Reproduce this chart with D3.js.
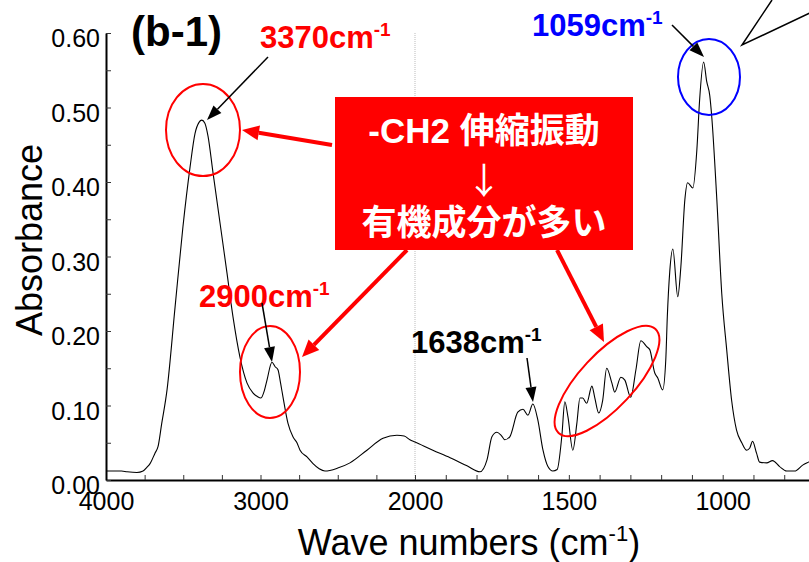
<!DOCTYPE html>
<html>
<head>
<meta charset="utf-8">
<script src="https://cdn.jsdelivr.net/npm/d3@7"></script>
<style>
  body { margin: 0; background: #fff; }
  svg { display: block; font-family: "Liberation Sans", Arial, "Noto Sans CJK JP", sans-serif; }
</style>
</head>
<body>
<div id="chart"></div>
<script>
// spectrum (cm-1, absorbance)
var wavenumbers = [4000, 3900, 3864, 3800, 3760, 3735, 3715, 3683, 3663, 3640, 3605, 3553, 3502, 3456, 3424, 3398, 3380, 3360, 3340, 3307,
  3262, 3217, 3178, 3133, 3087, 3049, 3020, 2997, 2975, 2958, 2926, 2905, 2887, 2870, 2854, 2822, 2790, 2764, 2744, 2699,
  2660, 2620, 2583, 2500, 2421, 2311, 2207, 2117, 2070, 2033, 2000, 1942, 1886, 1831, 1789, 1766, 1750, 1734, 1720, 1708,
  1692, 1666, 1649, 1633, 1617, 1601, 1584, 1568, 1552, 1538, 1523, 1513, 1503, 1487, 1474, 1464, 1455, 1442, 1425, 1416,
  1403, 1390, 1377, 1360, 1351, 1331, 1318, 1299, 1282, 1266, 1247, 1237, 1221, 1211, 1195, 1185, 1180, 1172, 1162, 1146,
  1136, 1123, 1114, 1097, 1084, 1075, 1062, 1052, 1042, 1036, 1019, 1003, 987, 971, 955, 938, 922, 912, 903, 890,
  880, 857, 838, 815, 792, 766, 740, 721, 700];
var absorbance = [0.012, 0.012, 0.011, 0.010, 0.012, 0.017, 0.022, 0.036, 0.045, 0.075, 0.121, 0.232, 0.340, 0.420, 0.465, 0.480, 0.483, 0.479, 0.462, 0.412,
  0.345, 0.278, 0.219, 0.165, 0.130, 0.117, 0.112, 0.110, 0.120, 0.134, 0.158, 0.152, 0.148, 0.130, 0.111, 0.076, 0.058, 0.050, 0.040, 0.031,
  0.022, 0.015, 0.012, 0.016, 0.023, 0.040, 0.056, 0.060, 0.059, 0.054, 0.051, 0.040, 0.030, 0.019, 0.011, 0.027, 0.058, 0.064, 0.060, 0.054,
  0.058, 0.091, 0.095, 0.087, 0.102, 0.081, 0.040, 0.018, 0.012, 0.014, 0.058, 0.105, 0.085, 0.040, 0.076, 0.110, 0.110, 0.103, 0.126, 0.111,
  0.090, 0.107, 0.150, 0.130, 0.118, 0.138, 0.134, 0.111, 0.148, 0.187, 0.179, 0.175, 0.144, 0.137, 0.121, 0.161, 0.219, 0.280, 0.310, 0.246,
  0.286, 0.376, 0.399, 0.392, 0.443, 0.510, 0.561, 0.535, 0.516, 0.490, 0.376, 0.250, 0.175, 0.107, 0.067, 0.050, 0.040, 0.043, 0.052, 0.036,
  0.024, 0.023, 0.026, 0.018, 0.012, 0.012, 0.020, 0.024, 0.028];

var xTickValues = [4000, 3000, 2000, 1500, 1000];
var yTickValues = [0, 0.1, 0.2, 0.3, 0.4, 0.5, 0.6];
var peakLabels = ['3370', '2900', '1638', '1059'];
var boxLines = ['-CH2 伸縮振動', '↓', '有機成分が多い'];

var width = 809,
    height = 562;

var data = wavenumbers.map(function(w, i) { return { wn: w, a: absorbance[i] }; });

// the axis doubles its scale below 2000 cm-1
var x = d3.scaleLinear().domain([4000, 2000, 700]).range([106, 415, 815]),
    y = d3.scaleLinear().domain([0, 0.6]).range([480, 33]);

var svg = d3.select('#chart').append('svg')
    .attr('width', width)
    .attr('height', height);

// dotted line at the scale change
svg.append('line')
    .attr('x1', x(2000)).attr('x2', x(2000))
    .attr('y1', y(0.6)).attr('y2', y(0))
    .attr('stroke', '#bbb')
    .attr('stroke-width', 1)
    .attr('stroke-dasharray', '1,1');

// minor ticks + axis lines
var xMinor = d3.range(4000, 2000, -250).concat(d3.range(2000, 699, -100));
var yMinor = d3.range(0, 0.601, 0.05);

var gx = svg.append('g').attr('transform', 'translate(0,' + y(0) + ')')
    .call(d3.axisBottom(x).tickValues(xMinor).tickSizeInner(-5).tickSizeOuter(0).tickFormat(''));
var gy = svg.append('g').attr('transform', 'translate(' + x(4000) + ',0)')
    .call(d3.axisLeft(y).tickValues(yMinor).tickSizeInner(-5).tickSizeOuter(0).tickFormat(''));
[gx, gy].forEach(function(g) {
    g.select('.domain').attr('stroke', '#000').attr('stroke-width', 2);
    g.selectAll('.tick line').attr('stroke', '#333').attr('stroke-width', 1);
});

// tick labels
svg.append('g').attr('transform', 'translate(0,' + y(0) + ')')
    .call(d3.axisBottom(x).tickValues(xTickValues).tickSize(0).tickPadding(12).tickFormat(d3.format('d')))
    .call(function(g) {
        g.select('.domain').remove();
        g.selectAll('text').attr('font-size', 25).attr('font-family', null).attr('fill', '#000');
    });
svg.append('g').attr('transform', 'translate(' + (x(4000) - 1) + ',0)')
    .call(d3.axisLeft(y).tickValues(yTickValues).tickSize(0).tickPadding(5).tickFormat(d3.format('.2f')))
    .call(function(g) {
        g.select('.domain').remove();
        g.selectAll('text').attr('font-size', 25).attr('font-family', null).attr('fill', '#000').attr('dy', '0.54em');
    });

// axis titles
svg.append('text')
    .attr('transform', 'translate(42,240) rotate(-90)')
    .attr('text-anchor', 'middle')
    .attr('font-size', 36)
    .text('Absorbance');

var xt = svg.append('text')
    .attr('x', 469).attr('y', 555)
    .attr('text-anchor', 'middle')
    .attr('font-size', 36);
xt.append('tspan').text('Wave numbers (cm');
xt.append('tspan').attr('font-size', 22).attr('dy', -14).text('-1');
xt.append('tspan').attr('dy', 14).text(')');

// spectrum
var line = d3.line()
    .x(function(d) { return x(d.wn); })
    .y(function(d) { return y(d.a); })
    .curve(d3.curveMonotoneX);

svg.append('path')
    .datum(data)
    .attr('fill', 'none')
    .attr('stroke', '#000')
    .attr('stroke-width', 1.1)
    .attr('d', line);

// panel tag
svg.append('text')
    .attr('x', 131).attr('y', 46)
    .attr('font-size', 42)
    .attr('font-weight', 'bold')
    .text('(b-1)');

// helpers for the annotations
function arrow(x1, y1, x2, y2, color, w, hl, hw) {
    var ang = Math.atan2(y2 - y1, x2 - x1),
        bx = x2 - hl * Math.cos(ang),
        by = y2 - hl * Math.sin(ang),
        px = Math.sin(ang) * hw / 2,
        py = -Math.cos(ang) * hw / 2;
    svg.append('line')
        .attr('x1', x1).attr('y1', y1).attr('x2', bx).attr('y2', by)
        .attr('stroke', color).attr('stroke-width', w);
    svg.append('polygon')
        .attr('points', [[x2, y2], [bx + px, by + py], [bx - px, by - py]].map(function(p) { return p.join(','); }).join(' '))
        .attr('fill', color);
}

function ellipse(cx, cy, rx, ry, rot, color) {
    svg.append('ellipse')
        .attr('cx', 0).attr('cy', 0).attr('rx', rx).attr('ry', ry)
        .attr('transform', 'translate(' + cx + ',' + cy + ') rotate(' + rot + ')')
        .attr('fill', 'none')
        .attr('stroke', color)
        .attr('stroke-width', 2);
}

function peakLabel(txt, px, py, color) {
    var t = svg.append('text')
        .attr('x', px).attr('y', py)
        .attr('font-size', 31)
        .attr('font-weight', 'bold')
        .attr('fill', color);
    t.append('tspan').text(txt + 'cm');
    t.append('tspan').attr('font-size', 19).attr('dy', -12).text('-1');
}

var red = '#ff0000', blue = '#0000ff';

ellipse(203, 130, 37, 46, 0, red);
ellipse(270, 372, 30, 46, 0, red);
ellipse(607, 381, 71, 27, -47, red);
ellipse(709, 77, 31, 38, 0, blue);

peakLabel(peakLabels[0], 260, 48, red);
peakLabel(peakLabels[1], 199, 307, red);
peakLabel(peakLabels[2], 411, 353, '#000');
peakLabel(peakLabels[3], 532, 36, blue);

arrow(268, 57, 207, 120, '#000', 1.5, 15, 11);
arrow(262, 303, 272, 362, '#000', 1.5, 15, 11);
arrow(527, 358, 533, 402, '#000', 1.5, 15, 11);
arrow(672, 25, 704, 57, '#000', 1.5, 15, 11);

// callout box
svg.append('rect')
    .attr('x', 335).attr('y', 97)
    .attr('width', 298).attr('height', 153)
    .attr('fill', red);

var boxY = [143, 194, 235];
boxLines.forEach(function(s, i) {
    svg.append('text')
        .attr('x', 484).attr('y', boxY[i])
        .attr('text-anchor', 'middle')
        .attr('font-family', i == 1 ? '"Noto Sans CJK JP", sans-serif' : null)
        .attr('font-size', i == 1 ? 36 : 35)
        .attr('font-weight', i == 1 ? 'normal' : 'bold')
        .attr('fill', '#fff')
        .text(s);
});

arrow(332, 145, 242, 130, red, 4, 17, 15);
arrow(407, 250, 302, 357, red, 4, 17, 15);
arrow(557, 250, 604, 342, red, 4, 17, 15);

// speech bubble pointer at the edge
svg.append('polyline')
    .attr('points', '772,0 742,45 812,12')
    .attr('fill', '#fff')
    .attr('stroke', '#000')
    .attr('stroke-width', 1.5);
</script>
</body>
</html>
